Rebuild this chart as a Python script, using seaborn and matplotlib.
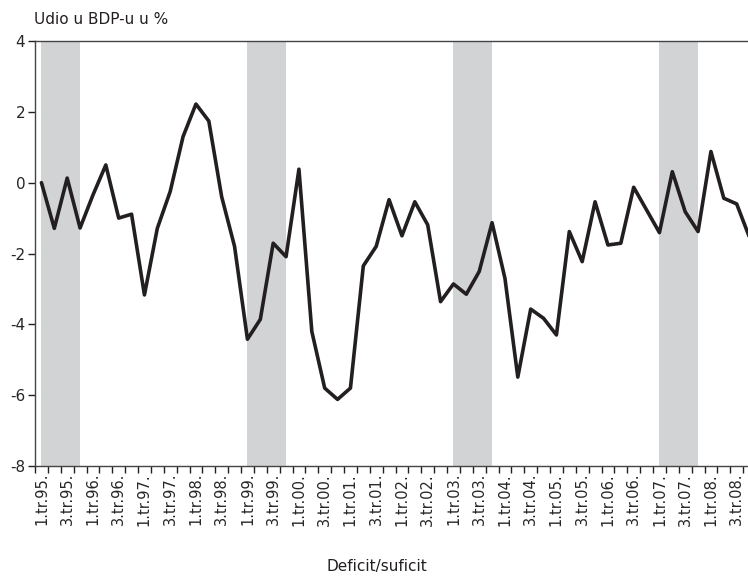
import matplotlib
matplotlib.use("Agg")
import matplotlib.pyplot as plt
import seaborn as sns
import pandas as pd
import numpy as np

# Quarterly general government balance, % of GDP, 1.tr.95 - 4.tr.08
quarters = [f"{q}.tr.{y:02d}." for y in list(range(95, 100)) + list(range(0, 9)) for q in (1, 2, 3, 4)]
values = [
    0.0, -1.29, 0.13, -1.28,      # 1995
    -0.35, 0.50, -1.0, -0.89,     # 1996
    -3.17, -1.29, -0.25, 1.30,    # 1997
    2.22, 1.74, -0.40, -1.80,     # 1998
    -4.42, -3.86, -1.71, -2.09,   # 1999
    0.38, -4.20, -5.80, -6.12,    # 2000
    -5.80, -2.35, -1.80, -0.48,   # 2001
    -1.50, -0.54, -1.19, -3.36,   # 2002
    -2.86, -3.15, -2.51, -1.13,   # 2003
    -2.70, -5.49, -3.57, -3.83,   # 2004
    -4.30, -1.38, -2.23, -0.54,   # 2005
    -1.76, -1.71, -0.13, -0.77,   # 2006
    -1.41, 0.31, -0.82, -1.38,    # 2007
    0.88, -0.44, -0.60, -1.55,    # 2008
]
tick_labels = quarters[::2]
shaded_starts = ["1.tr.95.", "1.tr.99.", "1.tr.03.", "1.tr.07."]
y_ticks = [-8, -6, -4, -2, 0, 2, 4]

df = pd.DataFrame({"pos": np.arange(len(values)), "val": values})

sns.set_style("ticks")
plt.rcParams["font.family"] = ["DejaVu Sans"]

fig = plt.figure(figsize=(7.48, 5.79), dpi=100)
W, H = 748, 579
ax = fig.add_axes([35 / W, 1 - 466 / H, 721 / W, (466 - 41) / H])

for s in shaded_starts:
    i = quarters.index(s)
    ax.axvspan(i, i + 3, color="#d1d3d4", lw=0, zorder=0)

sns.lineplot(data=df, x="pos", y="val", ax=ax, color="#231f20", lw=2.6, zorder=3)

ax.set_xlim(-0.5, len(values) - 0.5)
ax.set_ylim(-8, 4)
ax.set_yticks(y_ticks)
ax.set_yticklabels([str(v) for v in y_ticks], fontsize=11)
ax.set_xticks(np.arange(0, len(values), 2))
ax.set_xticklabels(tick_labels, rotation=90, fontsize=10.5, va="top")
ax.set_xticks(np.arange(-0.5, len(values), 1), minor=True)
ax.tick_params(axis="x", which="major", length=0, pad=5)
ax.tick_params(axis="x", which="minor", length=5, width=1, color="#231f20")
ax.tick_params(axis="y", length=5, width=1, color="#231f20", pad=2)
ax.set_xlabel("")
ax.set_ylabel("")

for side in ["left", "top", "bottom", "right"]:
    ax.spines[side].set_visible(True)
    ax.spines[side].set_color("#444444")
    ax.spines[side].set_linewidth(1.0)

fig.text(34 / W, 1 - 20 / H, "Udio u BDP-u u %", fontsize=11, ha="left", va="center", color="#231f20")
fig.text(377 / W, 1 - 566 / H, "Deficit/suficit", fontsize=11, ha="center", va="center", color="#231f20")

fig.savefig("out.png", dpi=100)
